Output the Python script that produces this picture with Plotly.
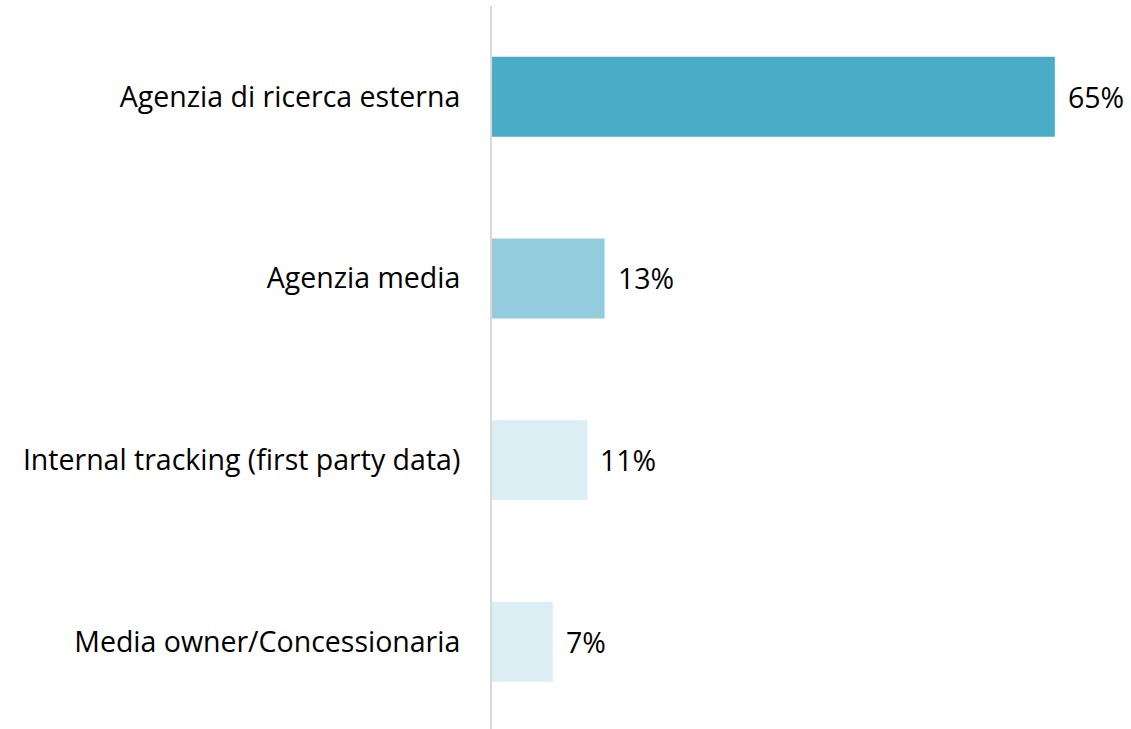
import plotly.graph_objects as go

categories = [
    "Agenzia di ricerca esterna",
    "Agenzia media",
    "Internal tracking (first party data)",
    "Media owner/Concessionaria",
]
values = [65, 13, 11, 7]
bar_colors = ["#4BACC6", "#93CDDD", "#DAEEF3", "#DAEEF3"]

FONT = "Open Sans"
SIZE = 28.5

fig = go.Figure()
fig.add_trace(go.Bar(
    x=values,
    y=categories,
    orientation="h",
    width=0.44,
    marker=dict(color=bar_colors, line=dict(width=0)),
    hoverinfo="skip",
))

for cat, v in zip(categories, values):
    fig.add_annotation(
        x=v, y=cat, text=f"{v}%", showarrow=False,
        xanchor="left", xshift=11,
        font=dict(family=FONT, size=SIZE, color="#000000"),
    )

fig.update_layout(
    width=1131, height=729,
    margin=dict(l=492, r=0, t=6, b=0),
    paper_bgcolor="white", plot_bgcolor="white",
    showlegend=False,
    font=dict(family=FONT, size=SIZE, color="#000000"),
)
fig.update_xaxes(range=[0, 73.8], visible=False, showgrid=False, zeroline=False)
fig.update_yaxes(
    type="category",
    range=[3.48, -0.5],
    showline=True, linecolor="#D9D9D9", linewidth=2,
    showgrid=False, zeroline=False,
    ticks="", ticklabelstandoff=24,
    tickfont=dict(family=FONT, size=SIZE, color="#000000"),
)

fig.write_html("out.html")
